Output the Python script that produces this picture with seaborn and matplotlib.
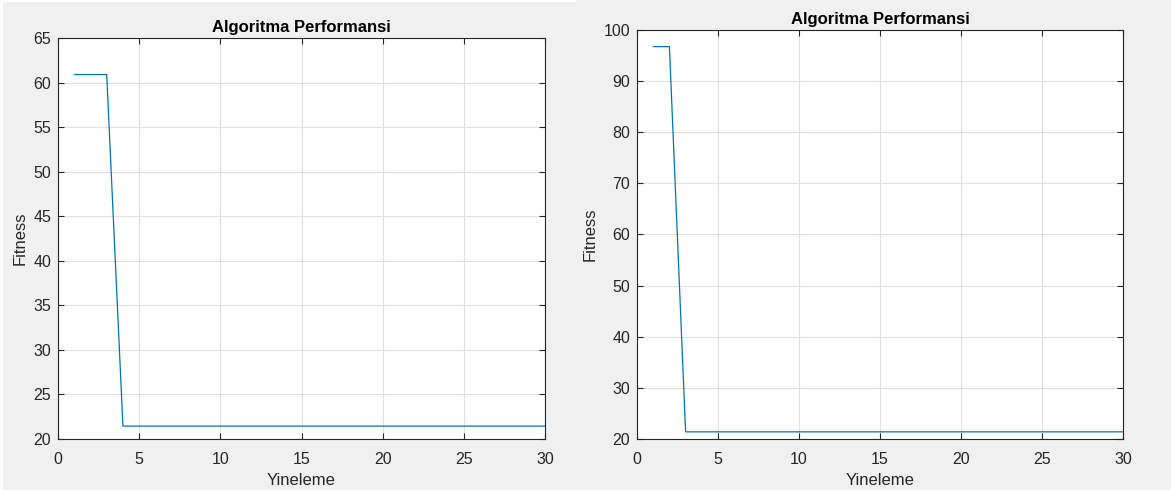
import numpy as np
import pandas as pd
import matplotlib
matplotlib.use("Agg")
import matplotlib.pyplot as plt
from matplotlib.patches import Rectangle
import seaborn as sns

# Fitness per iteration for two runs of the algorithm
iterations = list(range(1, 31))
fitness_run1 = [60.9, 60.9, 60.9] + [21.45] * 27
fitness_run2 = [96.75, 96.75] + [21.4] * 28

xticks = [0, 5, 10, 15, 20, 25, 30]
yticks_run1 = [20, 25, 30, 35, 40, 45, 50, 55, 60, 65]
yticks_run2 = [20, 30, 40, 50, 60, 70, 80, 90, 100]

title_text = "Algoritma Performansi"
xlabel_text = "Yineleme"
ylabel_text = "Fitness"

sns.set_style("ticks")
plt.rcParams["font.family"] = ["Liberation Sans", "DejaVu Sans"]

W, H = 1171, 490
DPI = 100
TEXT = "#262626"
LINE = "#0072BD"
GRID = "#dfdfdf"

fig = plt.figure(figsize=(W / DPI, H / DPI), dpi=DPI, facecolor="#f0f0f0")

# thin white margins around the left panel
fig.patches.append(Rectangle((0, 1 - 2 / H), 576 / W, 2 / H, transform=fig.transFigure,
                             facecolor="white", edgecolor="none", zorder=0))
fig.patches.append(Rectangle((0, 0), 3 / W, 1, transform=fig.transFigure,
                             facecolor="white", edgecolor="none", zorder=0))


def px_axes(x0, y0, x1, y1):
    return fig.add_axes([x0 / W, (H - y1) / H, (x1 - x0) / W, (y1 - y0) / H])


def draw(ax, y, yticks, ylim):
    df = pd.DataFrame({"Yineleme": iterations, "Fitness": y})
    sns.lineplot(data=df, x="Yineleme", y="Fitness", ax=ax, color=LINE, linewidth=0.9)
    ax.set_facecolor("white")
    ax.set_xlim(0, 30)
    ax.set_ylim(*ylim)
    ax.set_xticks(xticks)
    ax.set_yticks(yticks)
    ax.grid(True, color=GRID, linewidth=0.8)
    ax.set_axisbelow(True)
    for s in ax.spines.values():
        s.set_visible(True)
        s.set_color(TEXT)
        s.set_linewidth(0.8)
    ax.tick_params(direction="in", length=4, width=0.8, color=TEXT,
                   top=True, right=True, labelsize=11.5, labelcolor=TEXT)
    ax.tick_params(axis="x", pad=9)
    ax.tick_params(axis="y", pad=5)
    ax.set_title(title_text, fontsize=12, fontweight="bold", color="black", pad=4)
    ax.set_xlabel(xlabel_text, fontsize=12, color=TEXT, labelpad=5)
    ax.set_ylabel(ylabel_text, fontsize=12, color=TEXT, labelpad=4)


ax1 = px_axes(58, 38, 545, 439)
draw(ax1, fitness_run1, yticks_run1, (20, 65))

ax2 = px_axes(637, 30, 1123, 439)
draw(ax2, fitness_run2, yticks_run2, (20, 100))

fig.savefig("out.png", dpi=DPI, facecolor=fig.get_facecolor())
